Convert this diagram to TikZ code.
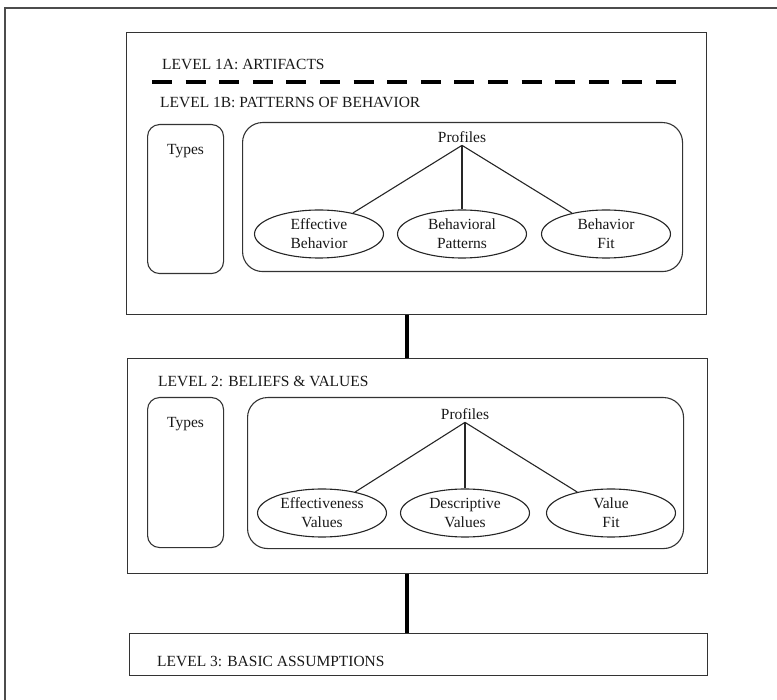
\documentclass[tikz,border=0pt]{standalone}
\usepackage{fontspec}
\setmainfont{Liberation Serif}
\usetikzlibrary{shapes.geometric,calc}
\begin{document}
\begin{tikzpicture}[x=1pt,y=-1pt,
  every node/.style={font=\fontsize{15.5}{19}\selectfont, text=black!90},
  levelbox/.style={draw=black!80, line width=1.3pt, rectangle, inner sep=0pt, anchor=north west},
  typebox/.style={draw=black!80, line width=1.1pt, rectangle, rounded corners=12pt, inner sep=0pt, anchor=north west},
  profbox/.style={draw=black!80, line width=1.1pt, rectangle, rounded corners=20pt, inner sep=0pt, anchor=north west},
  lbl/.style={anchor=base west, inner sep=0pt},
  ptext/.style={anchor=base, inner sep=2pt},
  ell/.style={draw=black!85, line width=1.1pt, ellipse, inner sep=0pt, minimum width=129pt, minimum height=48pt, align=center},
  conn/.style={draw=black!85, line width=1.1pt},
  spinec/.style={draw=black, line width=4pt},
  dashc/.style={draw=black, line width=4pt, dash pattern=on 20pt off 13.6pt},
  framec/.style={draw=black!70, line width=2pt}]
\useasboundingbox (0,0) rectangle (777,700);
% outer frame
\coordinate (f1) at (5,702);
\coordinate (f2) at (5,8);
\coordinate (f3) at (779,8);
\draw[framec] (f1) -- (f2) -- (f3);
% level boxes
\node[levelbox, minimum width=580pt, minimum height=282pt] (box1) at (126,32) {};
\node[levelbox, minimum width=580pt, minimum height=215pt] (box2) at (127,358) {};
\node[levelbox, minimum width=578pt, minimum height=42pt] (box3) at (129,633) {};
% spine connectors
\coordinate (spine) at (407,0);
\draw[spinec] (box1.south -| spine) -- (box2.north -| spine);
\draw[spinec] (box2.south -| spine) -- (box3.north -| spine);
% labels
\node[lbl] (l1a) at (162,70) {LEVEL 1A: ARTIFACTS};
\coordinate (d1) at (152,82);
\coordinate (d2) at (676,82);
\draw[dashc] (d1) -- (d2);
\node[lbl] (l1b) at (160,108) {LEVEL 1B: PATTERNS OF BEHAVIOR};
\node[lbl] (l2) at (158,387) {LEVEL 2: BELIEFS \& VALUES};
\node[lbl] (l3) at (157,666) {LEVEL 3: BASIC ASSUMPTIONS};
% level 1 inner
\node[typebox, minimum width=76pt, minimum height=149pt] (t1) at (147,124) {};
\node[anchor=base] (t1txt) at ($(t1.north)+(0,31)$) {Types};
\node[profbox, minimum width=440pt, minimum height=149pt] (pb1) at (242,122) {};
\node[ptext] (p1) at (462,143) {Profiles};
\node[ell] (e1) at (319,234) {Effective\\Behavior};
\node[ell] (e2) at (462,234) {Behavioral\\Patterns};
\node[ell] (e3) at (606,234) {Behavior\\Fit};
\draw[conn] (p1.south) -- (e1);
\draw[conn] (p1.south) -- (e2);
\draw[conn] (p1.south) -- (e3);
% level 2 inner
\node[typebox, minimum width=76pt, minimum height=150pt] (t2) at (147,397) {};
\node[anchor=base] (t2txt) at ($(t2.north)+(0,31)$) {Types};
\node[profbox, minimum width=436pt, minimum height=151pt] (pb2) at (247,397) {};
\node[ptext] (p2) at (465,420) {Profiles};
\node[ell] (f1e) at (322,513) {Effectiveness\\Values};
\node[ell] (f2e) at (465,513) {Descriptive\\Values};
\node[ell] (f3e) at (611,513) {Value\\Fit};
\draw[conn] (p2.south) -- (f1e);
\draw[conn] (p2.south) -- (f2e);
\draw[conn] (p2.south) -- (f3e);
\end{tikzpicture}
\end{document}
